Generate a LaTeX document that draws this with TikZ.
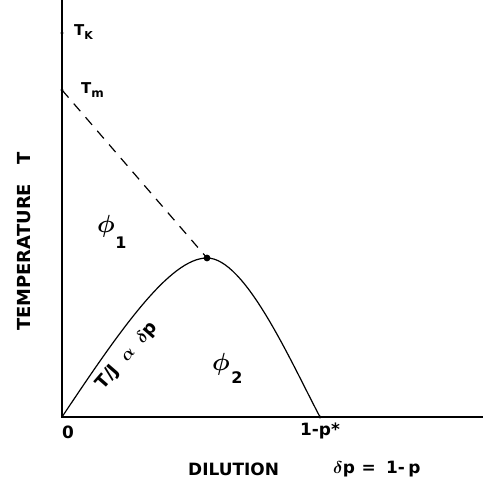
\documentclass[tikz,border=0pt]{standalone}
\usepackage{amsmath,bm}
\usepackage{fontspec}
\setmainfont{DejaVu Sans}
\begin{document}
\begin{tikzpicture}[x=1bp,y=-1bp,
  lbl/.style={font=\bfseries\fontsize{17}{19}\selectfont, inner sep=0pt},
  smlbl/.style={font=\bfseries\fontsize{15}{17}\selectfont, inner sep=0pt},
  lawlbl/.style={font=\bfseries\fontsize{18}{20}\selectfont, inner sep=0pt},
  axlbl/.style={font=\bfseries\fontsize{18}{20}\selectfont, inner sep=0pt},
  phlbl/.style={font=\fontsize{27}{30}\selectfont, inner sep=0pt},
  sublbl/.style={font=\bfseries\fontsize{16}{18}\selectfont, inner sep=0pt},
  axisline/.style={line width=1.2bp},
  curveline/.style={line width=1.2bp},
  dashline/.style={line width=1.2bp, dash pattern=on 10bp off 8bp},
  tick/.style={fill, circle, inner sep=1.1bp}]
\useasboundingbox (0,0) rectangle (483,484);
\coordinate (O) at (62,417);
\coordinate (Ytop) at (62,0);
\coordinate (Xend) at (483,417);
\node[tick] (Tk) at (62,33) {};
\node[tick] (Tm) at (62,90) {};
\node[tick, inner sep=2.4bp] (P) at (207,258) {};
\node[tick] (Pc) at (320,417) {};
\draw[axisline] (Ytop) -- (O) -- (Xend);
\draw[dashline] (Tm.center) -- (P.center);
\draw[curveline] (O) .. controls (120,330) and (170,258) .. (P.center)
  .. controls (245,258) and (290,360) .. (Pc.center);
\node[smlbl, anchor=west] (tkl) at (74,32) {T\raisebox{-0.45ex}{\fontsize{11}{12}\selectfont K}};
\node[smlbl, anchor=west] (tml) at (81,90) {T\raisebox{-0.45ex}{\fontsize{12}{12}\selectfont m}};
\node[phlbl] (ph1) at (106,226) {$\bm{\phi}$};
\node[sublbl] (s1) at (121,243) {1};
\node[phlbl] (ph2) at (221,364) {$\bm{\phi}$};
\node[sublbl] (s2) at (237,378) {2};
\node[lawlbl, rotate=49] (law) at (127,356) {T/J\hspace{0.6em}$\bm{\alpha}$\hspace{0.6em}$\bm{\delta}$p};
\node[lbl] (zero) at (68,432) {0};
\node[lbl] (pstar) at (320,431) {1-p*};
\node[lbl, anchor=west] (dil) at (188,469) {DILUTION};
\node[lbl, anchor=west] (dp) at (333,469) {$\bm{\delta}$p\hspace{0.4em}=\hspace{0.6em}1-\hspace{0.2em}p};
\node[axlbl, rotate=90, anchor=west] (temp) at (24,331) {TEMPERATURE\hspace{1.1em}T};
\end{tikzpicture}
\end{document}
